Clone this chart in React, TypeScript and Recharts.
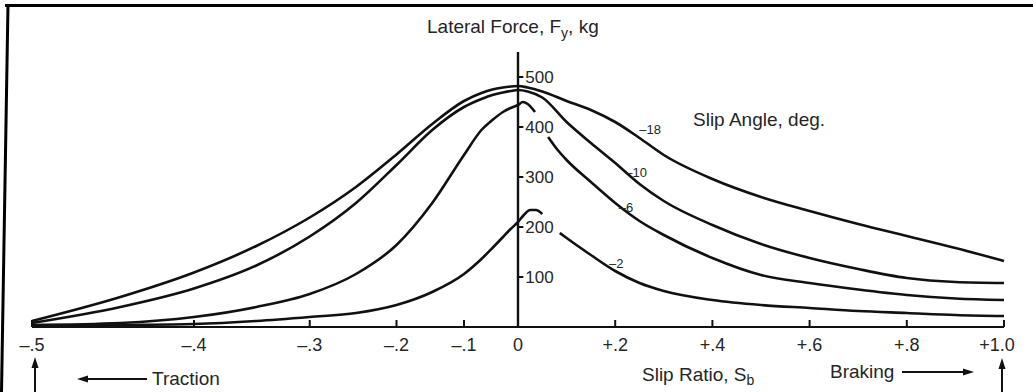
import React from "react";
import { LineChart, Line, XAxis, YAxis, ReferenceLine, ReferenceDot } from "recharts";

// bottom axis: slip ratio, tick values and how they are printed
const slipTicks = [-0.5, -0.4, -0.3, -0.2, -0.1, 0, 0.2, 0.4, 0.6, 0.8, 1.0];
const slipTickLabels = ["–.5", "–.4", "–.3", "–.2", "–.1", "0", "+.2", "+.4", "+.6", "+.8", "+1.0"];
const forceTicks = [100, 200, 300, 400, 500];

// slip angle -18 deg
const slip18 = [-0.5, -0.45, -0.4, -0.35, -0.3, -0.25, -0.2, -0.15, -0.1, -0.07, -0.05, -0.03, -0.015, 0, 0.02, 0.05, 0.1, 0.15, 0.2, 0.25, 0.3, 0.4, 0.5, 0.6, 0.7, 0.8, 0.9, 1.0];
const force18 = [12, 60, 109, 162, 219, 280, 345, 406, 452, 468, 475, 479, 481, 482, 479, 471, 452, 434, 410, 378, 344, 296, 260, 232, 206, 182, 158, 132];

// slip angle -10 deg
const slip10 = [-0.5, -0.45, -0.4, -0.35, -0.3, -0.25, -0.2, -0.15, -0.1, -0.07, -0.05, -0.03, -0.015, 0, 0.02, 0.05, 0.1, 0.15, 0.2, 0.25, 0.3, 0.4, 0.5, 0.6, 0.7, 0.8, 0.9, 1.0];
const force10 = [8, 40, 77, 123, 181, 248, 324, 394, 440, 456, 464, 469, 472, 474, 471, 459, 410, 368, 328, 286, 252, 204, 166, 138, 116, 98, 90, 88];

// slip angle -6 deg (traction side + hook, then braking side)
const slip6L = [-0.5, -0.45, -0.4, -0.35, -0.3, -0.25, -0.2, -0.15, -0.1, -0.07, -0.05, -0.03, -0.015, 0, 0.01, 0.02, 0.035];
const force6L = [4, 8, 20, 40, 66, 106, 164, 248, 344, 394, 414, 430, 438, 444, 450, 446, 430];
const slip6R = [0.062, 0.08, 0.1, 0.15, 0.2, 0.25, 0.3, 0.4, 0.5, 0.6, 0.7, 0.8, 0.9, 1.0];
const force6R = [380, 356, 334, 290, 248, 212, 184, 138, 104, 88, 75, 64, 57, 54];

// slip angle -2 deg
const slip2L = [-0.5, -0.45, -0.4, -0.35, -0.3, -0.25, -0.2, -0.15, -0.1, -0.07, -0.05, -0.03, -0.015, 0, 0.012, 0.025, 0.037, 0.05];
const force2L = [2, 4, 6, 12, 20, 28, 44, 70, 106, 136, 158, 180, 196, 210, 224, 234, 234, 226];
const slip2R = [0.086, 0.1, 0.15, 0.2, 0.25, 0.3, 0.4, 0.5, 0.6, 0.7, 0.8, 0.9, 1.0];
const force2R = [188, 178, 144, 112, 88, 72, 54, 44, 38, 32, 28, 24, 22];

// curve labels and where they sit (slip ratio, force)
const angleLabels = ["–18", "–10", "–6", "–2"];
const angleLabelSlip = [0.272, 0.243, 0.222, 0.202];
const angleLabelForce = [396, 310, 240, 128];

const INK = "#111";
const TEXT = "#262626";
const FONT = "'Liberation Sans', Arial, Helvetica, sans-serif";

// the traction half of the original axis is compressed: drawn at s/(1+s)
const toAxis = (s: number) => (s < 0 ? s / (1 + s) : s);
const rows = (slip: number[], force: number[]) =>
  slip.map((s, i) => ({ x: toAxis(s), f: force[i] }));

const series = [
  rows(slip18, force18),
  rows(slip10, force10),
  rows(slip6L, force6L),
  rows(slip6R, force6R),
  rows(slip2L, force2L),
  rows(slip2R, force2R),
];

function SlipTick(props: any) {
  const { x, y, index } = props;
  const last = index === slipTickLabels.length - 1;
  return (
    <g>
      <line x1={x} y1={y} x2={x} y2={y - 7} stroke={INK} strokeWidth={2} />
      <text
        x={last ? x - 7 : x}
        y={y + 24}
        textAnchor="middle"
        fontSize={18}
        fill={TEXT}
        fontFamily={FONT}
      >
        {slipTickLabels[index]}
      </text>
    </g>
  );
}

function Arrow({ x1, y1, x2, y2 }: { x1: number; y1: number; x2: number; y2: number }) {
  const a = Math.atan2(y2 - y1, x2 - x1);
  const len = 11;
  const w = 3.5;
  const bx = x2 - len * Math.cos(a);
  const by = y2 - len * Math.sin(a);
  const px = -Math.sin(a) * w;
  const py = Math.cos(a) * w;
  return (
    <g>
      <line x1={x1} y1={y1} x2={bx} y2={by} stroke={INK} strokeWidth={2} />
      <polygon points={`${x2},${y2} ${bx + px},${by + py} ${bx - px},${by - py}`} fill={INK} />
    </g>
  );
}

export default function App() {
  return (
    <div
      style={{
        position: "absolute",
        left: 0,
        top: 0,
        width: 1033,
        height: 392,
        background: "#fff",
        overflow: "hidden",
        fontFamily: FONT,
      }}
    >
      <LineChart
        width={1033}
        height={392}
        margin={{ top: 52, right: 29, bottom: 25, left: 32 }}
      >
        <XAxis
          dataKey="x"
          type="number"
          domain={[-1, 1]}
          ticks={slipTicks.map(toAxis)}
          interval={0}
          height={40}
          tickSize={0}
          tickMargin={0}
          tickLine={false}
          axisLine={{ stroke: INK, strokeWidth: 2.2 }}
          tick={<SlipTick />}
        />
        <YAxis type="number" domain={[0, 550]} hide />
        <ReferenceLine x={0} stroke={INK} strokeWidth={2.4} />
        {forceTicks.map((v) => (
          <ReferenceLine
            key={"t" + v}
            segment={[{ x: 0, y: v }, { x: 0.011, y: v }]}
            stroke={INK}
            strokeWidth={2}
          />
        ))}
        {forceTicks.map((v) => (
          <ReferenceDot
            key={"l" + v}
            x={0.011}
            y={v}
            r={0}
            fill="none"
            stroke="none"
            label={{ value: String(v), position: "right", offset: 2, fill: TEXT, fontSize: 17, fontFamily: FONT }}
          />
        ))}
        {series.map((d, i) => (
          <Line
            key={i}
            data={d}
            dataKey="f"
            type="monotone"
            stroke={INK}
            strokeWidth={2.6}
            dot={false}
            activeDot={false}
            isAnimationActive={false}
          />
        ))}
        {angleLabels.map((t, i) => (
          <ReferenceDot
            key={t}
            x={toAxis(angleLabelSlip[i])}
            y={angleLabelForce[i]}
            r={0}
            fill="none"
            stroke="none"
            label={{ value: t, position: "center", fill: TEXT, fontSize: 13, fontFamily: FONT }}
          />
        ))}
      </LineChart>
      <svg
        width={1033}
        height={392}
        style={{ position: "absolute", left: 0, top: 0, pointerEvents: "none" }}
      >
        <line x1={5} y1={5.5} x2={1033} y2={5.5} stroke="#000" strokeWidth={3} />
        <line x1={8} y1={4} x2={1.5} y2={392} stroke="#000" strokeWidth={3} />
        <text x={427} y={33} fontSize={19} fill={TEXT} fontFamily={FONT}>
          Lateral Force, F<tspan fontSize={14} dy={5}>y</tspan>
          <tspan dy={-5}>, kg</tspan>
        </text>
        <text x={693} y={126} fontSize={19} fill={TEXT} fontFamily={FONT}>
          Slip Angle, deg.
        </text>
        <text x={642} y={381} fontSize={19} fill={TEXT} fontFamily={FONT}>
          Slip Ratio, S<tspan fontSize={14} dy={4}>b</tspan>
        </text>
        <text x={152} y={385} fontSize={19} fill={TEXT} fontFamily={FONT}>
          Traction
        </text>
        <text x={830} y={378} fontSize={19} fill={TEXT} fontFamily={FONT}>
          Braking
        </text>
        <Arrow x1={147} y1={379} x2={77} y2={379} />
        <Arrow x1={902} y1={372} x2={974} y2={372} />
        <Arrow x1={35} y1={392} x2={35} y2={357} />
        <Arrow x1={1002} y1={392} x2={1002} y2={358} />
      </svg>
    </div>
  );
}
